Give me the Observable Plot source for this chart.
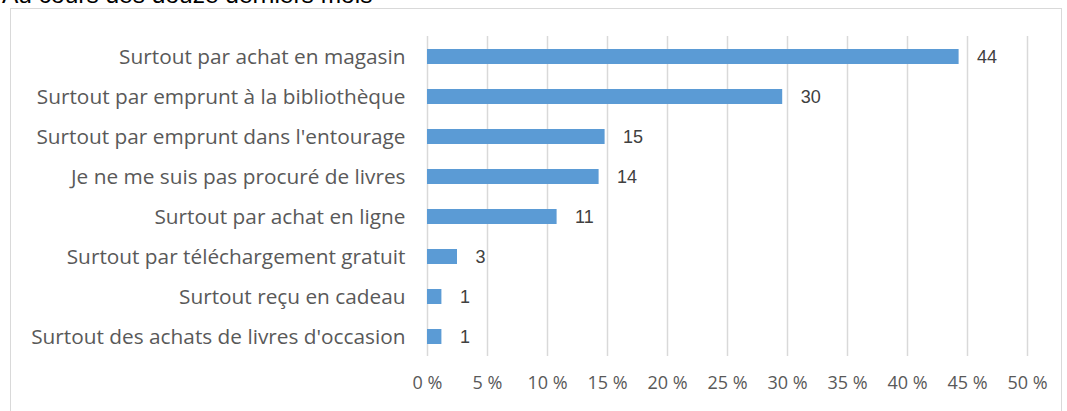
<!DOCTYPE html>
<html><head><meta charset="utf-8">
<script src="https://cdn.jsdelivr.net/npm/d3@7"></script>
<script src="https://cdn.jsdelivr.net/npm/@observablehq/plot@0.6"></script>
<style>
body{margin:0;background:#fff;width:1067px;height:411px;overflow:hidden;position:relative;font-family:"Open Sans",sans-serif}
#title{position:absolute;left:2px;top:-19px;font:24.5px "Liberation Sans",Arial,sans-serif;color:#000;white-space:nowrap;line-height:1.15}
#box{position:absolute;left:10px;top:8px;width:1052px;height:430px;border:1px solid #d9d9d9;box-sizing:border-box}
#chart{position:absolute;left:0;top:0}
</style></head>
<body>
<div id="title">Au cours des douze derniers mois</div>
<div id="box"><div id="chart"></div></div>
<script>
const categories = [
  "Surtout par achat en magasin",
  "Surtout par emprunt à la bibliothèque",
  "Surtout par emprunt dans l'entourage",
  "Je ne me suis pas procuré de livres",
  "Surtout par achat en ligne",
  "Surtout par téléchargement gratuit",
  "Surtout reçu en cadeau",
  "Surtout des achats de livres d'occasion"
];
const values = [44.3, 29.6, 14.8, 14.3, 10.8, 2.5, 1.2, 1.2];
const labels = ["44", "30", "15", "14", "11", "3", "1", "1"];
const xTicks = [0, 5, 10, 15, 20, 25, 30, 35, 40, 45, 50];

const data = categories.map((c, i) => ({cat: c, v: values[i], lab: labels[i]}));

const chart = Plot.plot({
  width: 1050,
  height: 400,
  marginLeft: 416,
  marginRight: 34,
  marginTop: 27,
  marginBottom: 53,
  style: {fontFamily: "'Open Sans', sans-serif", fontSize: "17px", color: "#595959", background: "transparent"},
  x: {domain: [0, 50], ticks: xTicks, tickFormat: d => d + " %", label: null},
  y: {domain: categories, padding: 0.625, paddingOuter: 0.3125, label: null},
  marks: [
    Plot.gridX(xTicks, {stroke: "#d9d9d9", strokeOpacity: 1, strokeWidth: 1.5}),
    Plot.barX(data, {x: "v", y: "cat", fill: "#5B9BD5"}),
    Plot.text(data, {x: "v", y: "cat", text: "lab", textAnchor: "start", dx: 18, fill: "#404040", fontSize: 18, fontFamily: "'Liberation Sans', Arial, sans-serif"}),
    Plot.axisX({ticks: xTicks, tickSize: 0, tickPadding: 20, tickFormat: d => d + " %", fill: "#595959", fontSize: 18, label: null}),
    Plot.axisY({tickSize: 0, tickPadding: 22, fill: "#595959", fontSize: 20.8, label: null})
  ]
});
document.getElementById("chart").appendChild(chart);
</script>
</body></html>
